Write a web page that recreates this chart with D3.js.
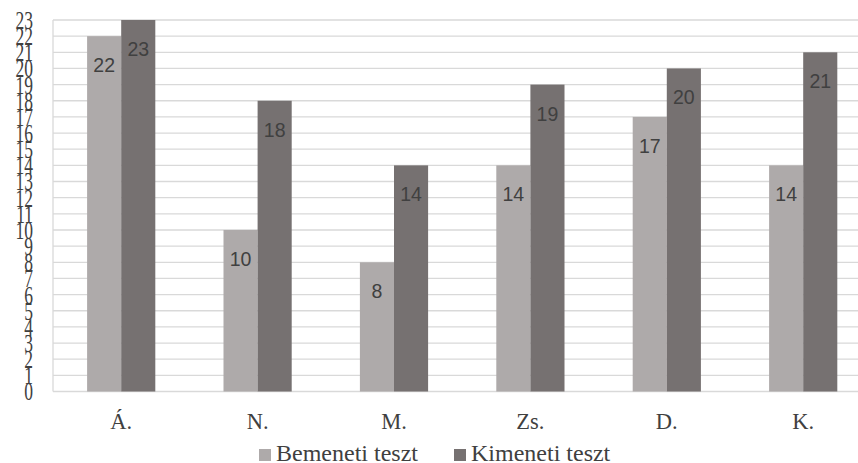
<!DOCTYPE html>
<html>
<head>
<meta charset="utf-8">
<script src="https://cdn.jsdelivr.net/npm/d3@7"></script>
<style>
  html, body { margin: 0; padding: 0; background: #fff; }
  svg { display: block; }
</style>
</head>
<body>
<svg id="chart" width="858" height="463"></svg>
<script>
// Test scores per student
const categories = ["Á.", "N.", "M.", "Zs.", "D.", "K."];
const seriesNames = ["Bemeneti teszt", "Kimeneti teszt"];
const bemeneti = [22, 10, 8, 14, 17, 14];
const kimeneti = [23, 18, 14, 19, 20, 21];
const yTicks = d3.range(0, 24);
const colors = ["#AEAAAA", "#767171"];

const svg = d3.select("#chart");
const W = 858, H = 463;
const plotLeft = 53, plotTop = 20, plotBottom = 391.5;
const step = 136.4;
const serif = "'Liberation Serif', 'Times New Roman', serif";

const x = d3.scaleBand()
  .domain(categories)
  .range([plotLeft, plotLeft + step * categories.length])
  .paddingInner(0.5)
  .paddingOuter(0.25);

const xs = d3.scaleBand()
  .domain(seriesNames)
  .range([0, x.bandwidth()]);

const y = d3.scaleLinear().domain([0, 23]).range([plotBottom, plotTop]);

// gridlines
svg.append("g")
  .selectAll("line")
  .data(yTicks)
  .join("line")
  .attr("x1", plotLeft)
  .attr("x2", W)
  .attr("y1", d => y(d))
  .attr("y2", d => y(d))
  .attr("stroke", "#D9D9D9")
  .attr("stroke-width", 1.3);

// left axis line
svg.append("line")
  .attr("x1", plotLeft).attr("x2", plotLeft)
  .attr("y1", plotTop).attr("y2", plotBottom)
  .attr("stroke", "#D9D9D9")
  .attr("stroke-width", 1.3);

// y tick labels (tall serif)
svg.append("g")
  .selectAll("text")
  .data(yTicks)
  .join("text")
  .attr("transform", d => `translate(33,${y(d)}) scale(1,1.5)`)
  .attr("text-anchor", "end")
  .attr("dy", "0.34em")
  .attr("font-family", serif)
  .attr("font-size", 17.5)
  .attr("fill", "#404040")
  .text(d => d);

const rows = categories.map((c, i) => ({ cat: c, values: [bemeneti[i], kimeneti[i]] }));

const groups = svg.append("g")
  .selectAll("g")
  .data(rows)
  .join("g")
  .attr("transform", d => `translate(${x(d.cat)},0)`);

groups.selectAll("rect")
  .data(d => d.values.map((v, j) => ({ key: seriesNames[j], v, j })))
  .join("rect")
  .attr("x", d => xs(d.key))
  .attr("width", xs.bandwidth())
  .attr("y", d => y(d.v))
  .attr("height", d => y(0) - y(d.v))
  .attr("fill", d => colors[d.j]);

groups.selectAll("text")
  .data(d => d.values.map((v, j) => ({ key: seriesNames[j], v, j })))
  .join("text")
  .attr("x", d => xs(d.key) + xs.bandwidth() / 2)
  .attr("y", d => y(d.v) + 29)
  .attr("dy", "0.36em")
  .attr("text-anchor", "middle")
  .attr("font-family", "'Liberation Sans', Arial, sans-serif")
  .attr("font-size", 19.5)
  .attr("fill", "#404040")
  .text(d => d.v);

// category labels
svg.append("g")
  .selectAll("text")
  .data(categories)
  .join("text")
  .attr("x", d => x(d) + x.bandwidth() / 2)
  .attr("y", 429)
  .attr("text-anchor", "middle")
  .attr("font-family", serif)
  .attr("font-size", 22.5)
  .attr("fill", "#404040")
  .text(d => d);

// legend
const legendX = [259, 454];
const legend = svg.append("g")
  .selectAll("g")
  .data(seriesNames)
  .join("g")
  .attr("transform", (d, i) => `translate(${legendX[i]},449)`);
legend.append("rect")
  .attr("width", 12).attr("height", 12)
  .attr("fill", (d, i) => colors[i]);
legend.append("text")
  .attr("x", 17)
  .attr("y", 11.5)
  .attr("font-family", serif)
  .attr("font-size", 24)
  .attr("fill", "#404040")
  .text(d => d);
</script>
</body>
</html>
